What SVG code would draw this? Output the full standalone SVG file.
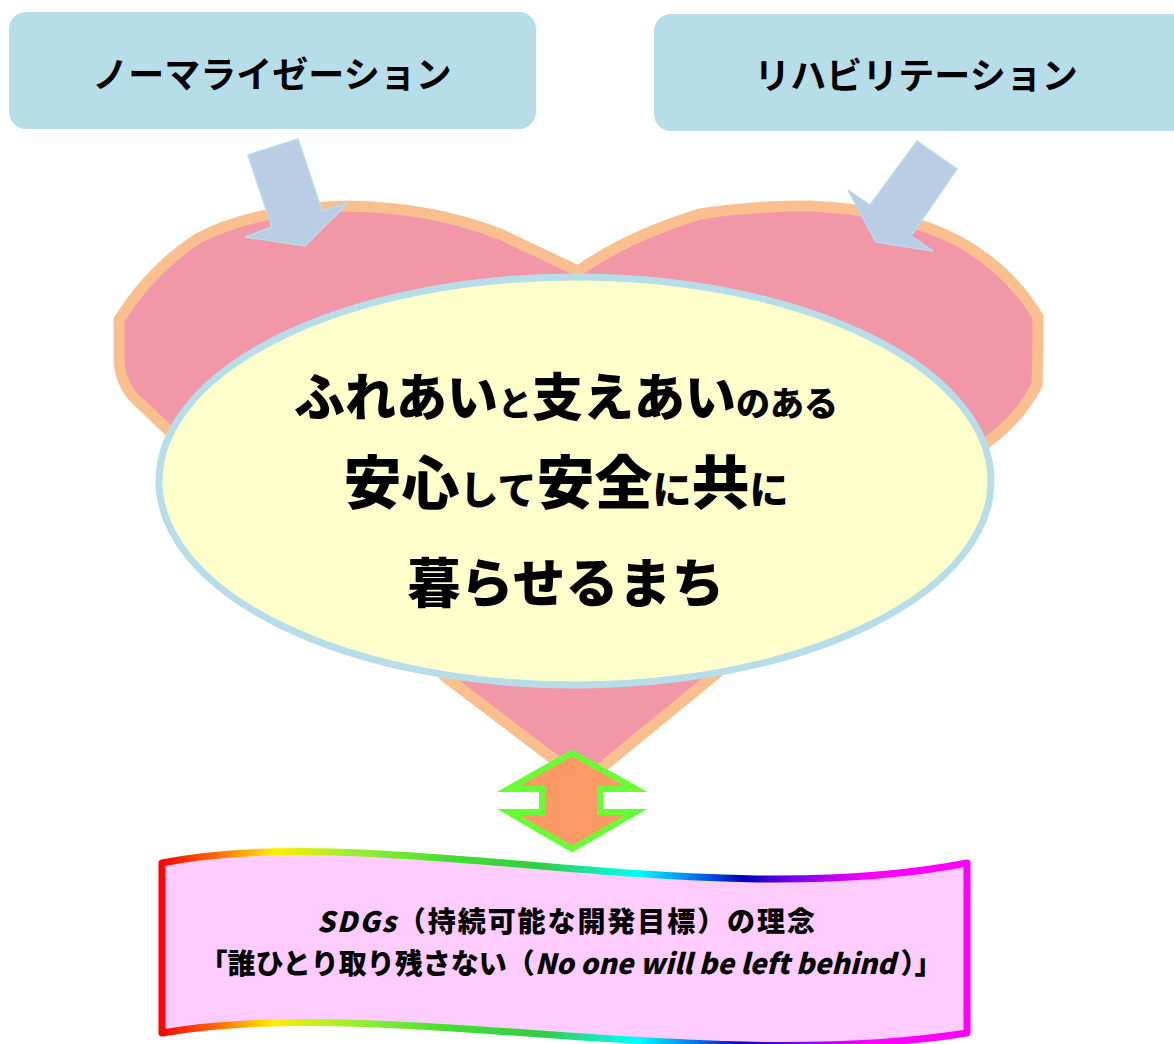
<svg xmlns="http://www.w3.org/2000/svg" width="1174" height="1044" viewBox="0 0 1174 1044">
  <defs>
    <style>
      .box { fill: #B7DDE8; }
      .boxtext { font-family: "Noto Sans CJK JP", "Noto Sans", sans-serif; font-size: 36px; font-weight: 700; fill: #000; text-anchor: middle; }
      .vision { font-family: "Noto Sans CJK JP", "Noto Sans", sans-serif; font-weight: 900; fill: #000; text-anchor: middle; }
      .sdgs { font-family: "Noto Sans CJK JP", "Noto Sans", sans-serif; font-weight: 900; font-size: 28px; fill: #000; text-anchor: middle; }
      .lat { font-style: italic; }
      .blue-arrow { fill: #B9CDE4; stroke: #B7DDE8; stroke-width: 1.5; stroke-linejoin: miter; }
    </style>
    <linearGradient id="rainbow" gradientUnits="userSpaceOnUse" x1="160" y1="0" x2="970" y2="0">
      <stop offset="0" stop-color="#FF0000"/>
      <stop offset="0.07" stop-color="#FF6A00"/>
      <stop offset="0.14" stop-color="#FFEE00"/>
      <stop offset="0.24" stop-color="#99EE33"/>
      <stop offset="0.36" stop-color="#44DD33"/>
      <stop offset="0.47" stop-color="#33CC44"/>
      <stop offset="0.59" stop-color="#00FFFF"/>
      <stop offset="0.66" stop-color="#0077EE"/>
      <stop offset="0.72" stop-color="#0000BB"/>
      <stop offset="0.79" stop-color="#8800EE"/>
      <stop offset="0.88" stop-color="#FF00FF"/>
      <stop offset="1" stop-color="#FF00FF"/>
    </linearGradient>
  </defs>

  <g id="node-normalization">
    <rect class="box" x="9" y="12" width="527" height="117" rx="17"/>
    <text class="boxtext" x="272" y="88">ノーマライゼーション</text>
  </g>

  <g id="node-rehabilitation">
    <rect class="box" x="654" y="14" width="540" height="117" rx="17"/>
    <text class="boxtext" x="916" y="89">リハビリテーション</text>
  </g>

  <g id="node-heart">
    <path d="M 578,271 L 500,234 Q 430,207 347,206 Q 250,210 197,239 Q 150,270 119,320 L 119,362 Q 122,390 142,405 L 170,432 L 447,678 L 584,782 L 711,678 L 990,440 Q 1020,418 1037,385 L 1038,343 L 1038,317 Q 1010,270 960,242 Q 900,210 810,206 Q 750,206 700,214 Q 630,235 578,271 Z" fill="#F297A8" stroke="#F9BF8F" stroke-width="11" stroke-linejoin="round"/>
  </g>

  <g id="connectors">
    <polygon class="blue-arrow" points="248,155 298,139 322,211 348,203 305,246 245,237 272,227"/>
    <polygon class="blue-arrow" points="917,141 957,169 911,236 933,251 876,242 848,190 870,205"/>
    <polygon points="572,753 636,789 600,789 600,812 636,812 572,849 508,812 542,812 542,789 508,789" fill="#FC9A66" stroke="#66FF33" stroke-width="6" stroke-linejoin="miter"/>
  </g>

  <g id="node-vision">
    <ellipse cx="575" cy="481" rx="416" ry="204" fill="#FFFFCC" stroke="#B7DDE8" stroke-width="7"/>
    <text class="vision" x="566" y="416"><tspan font-size="51">ふれあい</tspan><tspan font-size="34">と</tspan><tspan font-size="51">支えあい</tspan><tspan font-size="34">のある</tspan></text>
    <text class="vision" x="566" y="504"><tspan font-size="58">安心</tspan><tspan font-size="39">して</tspan><tspan font-size="58">安全</tspan><tspan font-size="39">に</tspan><tspan font-size="58">共</tspan><tspan font-size="39">に</tspan></text>
    <text class="vision" x="566" y="603" font-size="53">暮らせるまち</text>
  </g>

  <g id="node-sdgs">
    <path d="M 162,863 C 380,820 700,915 967,863 L 967,1033 C 700,1075 380,995 162,1033 Z" fill="#FFCCFF" stroke="url(#rainbow)" stroke-width="7" stroke-linejoin="round"/>
    <text class="sdgs" x="566" y="932" font-size="29" textLength="498" lengthAdjust="spacing"><tspan class="lat">SDGs</tspan>（持続可能な開発目標）の理念</text>
    <text class="sdgs" x="571" y="974">「誰ひとり取り残さない（<tspan class="lat">No one will be left behind</tspan><tspan dx="5">）」</tspan></text>
  </g>
</svg>
